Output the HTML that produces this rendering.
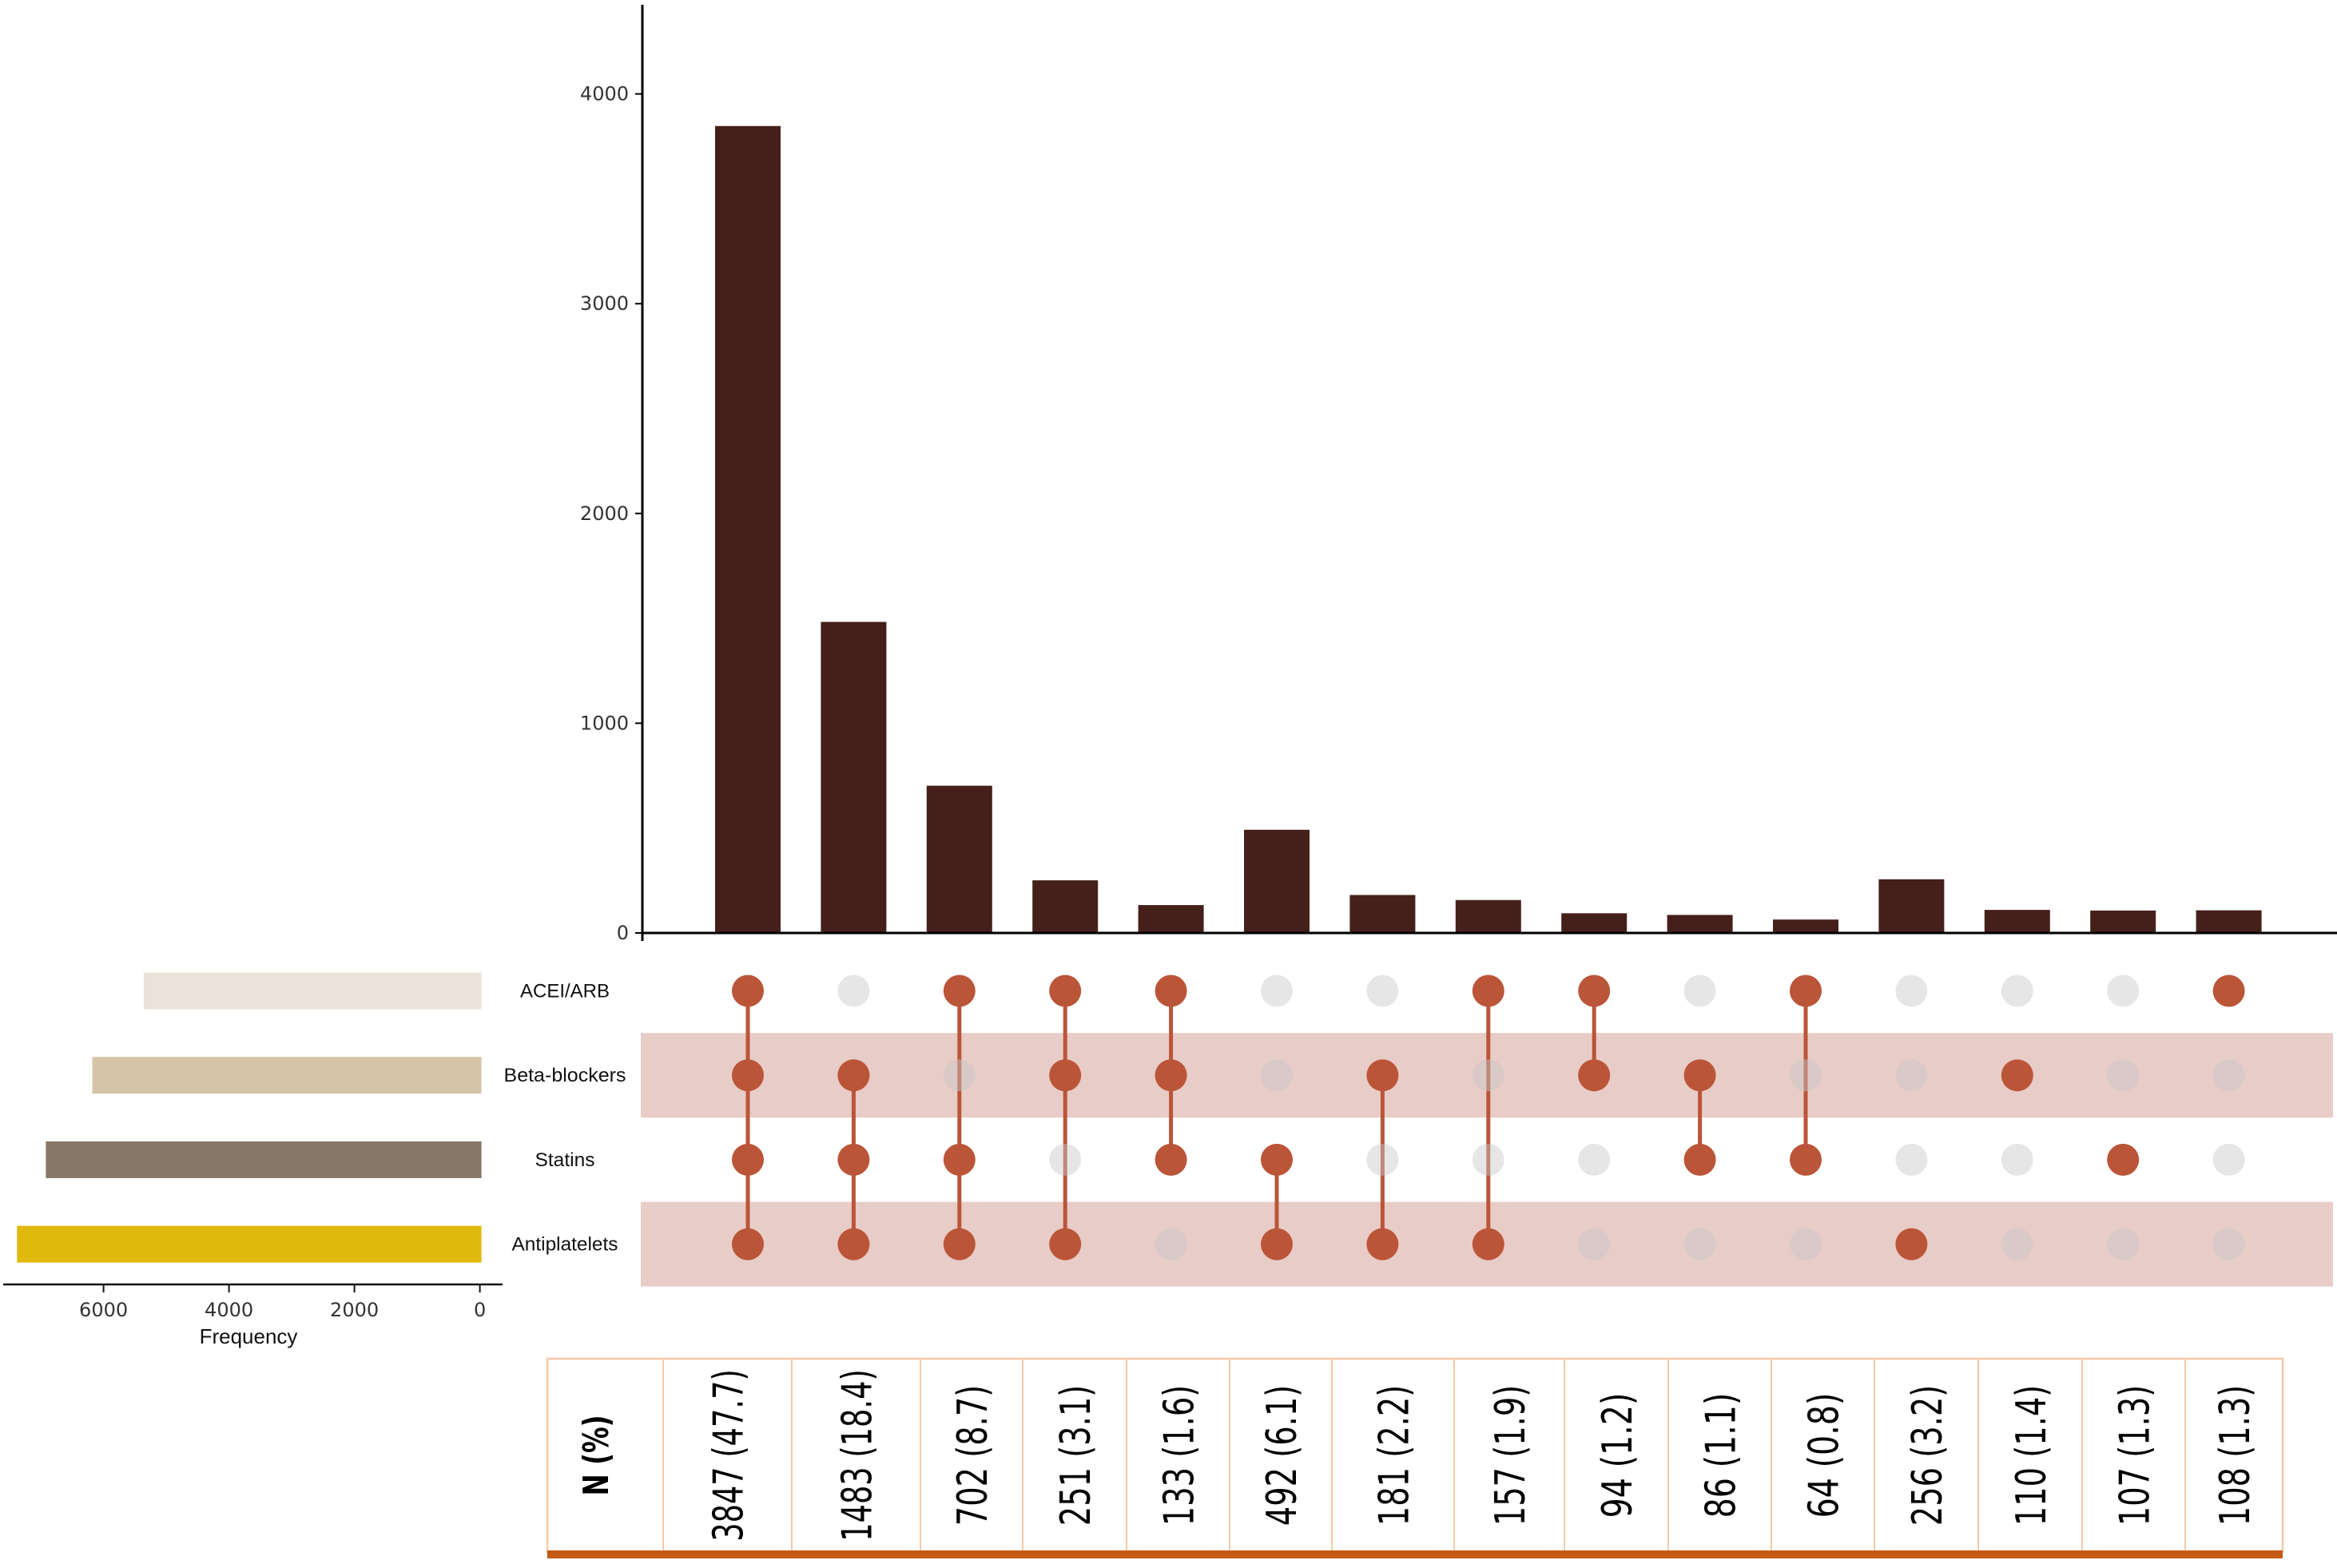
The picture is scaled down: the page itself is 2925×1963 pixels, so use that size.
<!DOCTYPE html>
<html><head><meta charset="utf-8"><style>
html,body{margin:0;padding:0;background:#fff;}
svg{display:block;font-family:"DejaVu Sans","Liberation Sans",sans-serif;}
</style></head><body>
<svg id="chart" width="2925" height="1963" viewBox="0 0 2925 1963" xmlns="http://www.w3.org/2000/svg"></svg>
<script>
const setNames = ["ACEI/ARB","Beta-blockers","Statins","Antiplatelets"];
const setSizes = [5360, 6180, 6920, 7380];
const setColors = ["#ebe3d9","#d5c4a8","#877766","#e0b90e"];
const intersectionCounts = [3847,1483,702,251,133,492,181,157,94,86,64,256,110,107,108];
const intersectionPct = ["47.7","18.4","8.7","3.1","1.6","6.1","2.2","1.9","1.2","1.1","0.8","3.2","1.4","1.3","1.3"];
const memberships = [[0,1,2,3],[1,2,3],[0,2,3],[0,1,3],[0,1,2],[2,3],[1,3],[0,3],[0,1],[1,2],[0,2],[3],[1],[2],[0]];
const yTicks = [0,1000,2000,3000,4000];
const freqTicks = [0,2000,4000,6000];

const NS="http://www.w3.org/2000/svg";
const svg=document.getElementById('chart');
function mk(tag,attrs,parent){const e=document.createElementNS(NS,tag);for(const k in attrs)e.setAttribute(k,attrs[k]);(parent||svg).appendChild(e);return e;}

// scales
const y0=1168, pxPer=262.6/1000;
const yScale=v=>y0-v*pxPer;
const colX=i=>936+i*132.4;
const rowY=r=>1240.5+r*105.7;
const fx0=600.6, fPer=157/2000;
const fScale=v=>fx0-v*fPer;

// row bands
[1,3].forEach(r=>{
  const b=mk('rect',{x:802,y:rowY(r)-53,width:2118,height:106,fill:'#e8ccc7'});
  
  
});

// bars
intersectionCounts.forEach((v,i)=>{
  const b=mk('rect',{x:colX(i)-41,y:yScale(v),width:82,height:y0-yScale(v),fill:'#45201a'});
  
  
});
// y axis
const ya=mk('line',{x1:804,y1:6,x2:804,y2:1178,stroke:'#000','stroke-width':3});


const xa=mk('line',{x1:804,y1:y0,x2:2925,y2:y0,stroke:'#000','stroke-width':3});


yTicks.forEach(t=>{
  const tk=mk('line',{x1:795,y1:yScale(t),x2:804,y2:yScale(t),stroke:'#000','stroke-width':2});
  
  
  const tx=mk('text',{x:787,y:yScale(t)+8,'text-anchor':'end','font-size':24,fill:'#333'});
  tx.textContent=String(t);
  
  
});

// matrix dots
intersectionCounts.forEach((v,i)=>{
  const m=memberships[i];
  if(m.length>1){
    const ln=mk('line',{x1:colX(i),y1:rowY(Math.min(...m)),x2:colX(i),y2:rowY(Math.max(...m)),stroke:'#bb5538','stroke-width':5});
    
    
  }
  for(let r=0;r<4;r++){
    const on=m.includes(r);
    const c=mk('circle',{cx:colX(i),cy:rowY(r),r:20,fill:on?'#bb5538':'rgba(200,200,200,0.45)'});
    
    
  }
});

// set labels + size bars
const labelW=[112,153,75,133];
setNames.forEach((n,r)=>{
  const t=mk('text',{x:707,y:rowY(r)+8,'text-anchor':'middle','font-size':24,fill:'#111',textLength:labelW[r],lengthAdjust:'spacingAndGlyphs',style:'font-family:"Liberation Sans",sans-serif'});
  t.textContent=n;
  
  
  const b=mk('rect',{x:fScale(setSizes[r]),y:rowY(r)-23,width:fx0+2-fScale(setSizes[r]),height:46,fill:setColors[r]});
  
  
});
const fa=mk('line',{x1:4,y1:1608,x2:629,y2:1608,stroke:'#111','stroke-width':2.5});


freqTicks.forEach(t=>{
  const tk=mk('line',{x1:fScale(t),y1:1608,x2:fScale(t),y2:1618,stroke:'#111','stroke-width':2});
  
  
  const tx=mk('text',{x:fScale(t),y:1648,'text-anchor':'middle','font-size':24,fill:'#333'});
  tx.textContent=String(t);
  
  
});
const ft=mk('text',{x:311,y:1682,'text-anchor':'middle','font-size':26,fill:'#111',style:'font-family:"Liberation Sans",sans-serif'});
ft.textContent='Frequency';



// table
const bounds=[685,830,991,1152,1280,1410,1539,1667,1820,1958,2088,2217,2346,2476,2606,2735,2857];
const tb=mk('rect',{x:685,y:1701,width:2172,height:242,fill:'#fff',stroke:'#f6c9a8','stroke-width':2.5});


for(let k=1;k<bounds.length-1;k++){
  const l=mk('line',{x1:bounds[k],y1:1701,x2:bounds[k],y2:1943,stroke:'#f6c9a8','stroke-width':2});
  
  
}
const ob=mk('rect',{x:685,y:1941,width:2172,height:10,fill:'#c55a14'});


const hd=mk('text',{x:0,y:0,'text-anchor':'middle','font-size':44,'font-weight':'bold',fill:'#000',textLength:101,lengthAdjust:'spacingAndGlyphs',transform:'translate(761,1822) rotate(-90)'});
hd.textContent='N (%)';


intersectionCounts.forEach((v,i)=>{
  const label=v+' ('+intersectionPct[i]+')';
  const cx=(bounds[i+1]+bounds[i+2])/2;
  const len=label.length*19.6;
  const t=mk('text',{x:0,y:0,'text-anchor':'middle','font-size':52,fill:'#000',textLength:len,lengthAdjust:'spacingAndGlyphs',transform:'translate('+(cx+19)+',1822) rotate(-90)'});
  t.textContent=label;
  
  
});
</script>
</body></html>
